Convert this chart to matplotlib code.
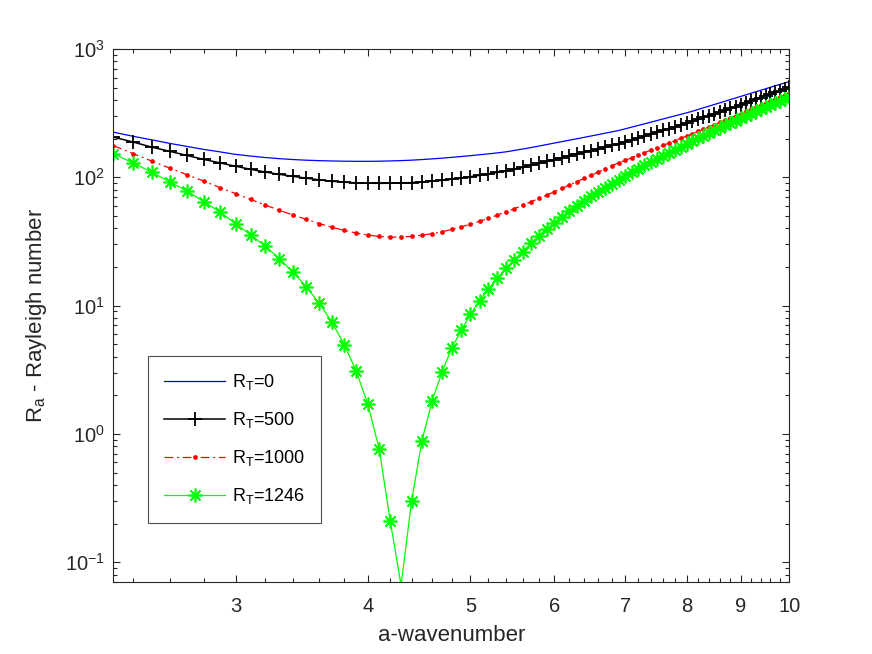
import matplotlib
matplotlib.use('Agg')
import matplotlib.pyplot as plt
from matplotlib.ticker import FixedLocator, NullFormatter

# wavenumber a (step 0.1)
wavenumber = [2.3, 2.4, 2.5, 2.6, 2.7, 2.8, 2.9, 3.0, 3.1, 3.2, 3.3, 3.4, 3.5, 3.6,
              3.7, 3.8, 3.9, 4.0, 4.1, 4.2, 4.3, 4.4, 4.5, 4.6, 4.7, 4.8, 4.9, 5.0,
              5.1, 5.2, 5.3, 5.4, 5.5, 5.6, 5.7, 5.8, 5.9, 6.0, 6.1, 6.2, 6.3, 6.4,
              6.5, 6.6, 6.7, 6.8, 6.9, 7.0, 7.1, 7.2, 7.3, 7.4, 7.5, 7.6, 7.7, 7.8,
              7.9, 8.0, 8.1, 8.2, 8.3, 8.4, 8.5, 8.6, 8.7, 8.8, 8.9, 9.0, 9.1, 9.2,
              9.3, 9.4, 9.5, 9.6, 9.7, 9.8, 9.9, 10.0]

ra_rt0 = [225, 209, 196, 184, 174, 165, 158, 151, 146.5, 142.7, 139.8, 137.6, 136, 134.9,
          134.1, 133.6, 133.3, 133.3, 133.6, 134.2, 135.0, 136.1, 137.6, 139.3, 141.1, 143.1, 145.3, 147.6,
          150.0, 152.4, 155.0, 158.0, 162.0, 166.1, 170.4, 175.2, 180.0, 184.9, 189.8, 194.8, 199.8, 204.9,
          210.0, 215.3, 220.8, 226.2, 231.7, 238.8, 246.3, 253.7, 261.3, 269.1, 277.0, 285.0, 293.1, 301.4,
          309.7, 318.2, 327.4, 337.7, 348.3, 359.0, 369.8, 380.9, 392.1, 403.7, 415.5, 427.2, 439.3, 451.9,
          464.4, 477.0, 489.9, 503.2, 516.6, 530.0, 543.8, 557.2]

ra_rt500 = [206, 188.6, 172, 159.5, 148, 138, 129.6, 122, 115.5, 110, 105.5, 101.8, 98.5, 95.5,
            93.2, 91.6, 90.6, 90.0, 89.8, 89.9, 90.3, 91.0, 92.0, 93.3, 94.9, 96.8, 98.9, 101.2,
            103.7, 106.4, 109.2, 112.3, 115.8, 119.6, 123.8, 128.2, 133.0, 137.7, 142.6, 147.5, 152.5, 156.8,
            161.5, 166.5, 172.0, 177.5, 183.0, 189.5, 196.1, 202.9, 209.8, 217.1, 224.6, 232.3, 240.2, 248.4,
            256.7, 265.5, 274.4, 283.6, 293.1, 302.9, 312.8, 323.3, 333.9, 345.0, 356.3, 367.9, 379.9, 392.5,
            405.3, 418.3, 431.8, 445.8, 459.8, 474.0, 488.7, 503.8]

ra_rt1000 = [176.8, 153.3, 134, 118, 104.8, 93.4, 83.2, 74.8, 67.2, 60.8, 55.4, 50.8, 47.0, 43.6,
             40.8, 38.6, 36.8, 35.5, 34.6, 34.2, 34.2, 34.7, 35.4, 36.4, 37.6, 39.3, 41.1, 43.1,
             45.4, 48.0, 50.7, 53.8, 57.0, 60.5, 64.3, 68.4, 72.7, 77.2, 82.0, 87.0, 92.3, 98.0,
             104.0, 109.9, 116.4, 123.2, 129.6, 135.8, 142.3, 148.8, 155.6, 162.7, 170.0, 177.4, 185.1, 193.1,
             201.2, 209.7, 218.3, 227.7, 237.5, 247.5, 257.7, 268.4, 279.3, 290.6, 302.1, 313.9, 326.1, 338.8,
             351.6, 364.7, 378.2, 392.3, 406.5, 421.0, 436.0, 452.3]

ra_rt1246 = [153, 129.6, 109.7, 92.3, 78.2, 64.6, 53.7, 43.6, 35.6, 29.1, 23.2, 18.2, 14.0, 10.4,
             7.43, 4.96, 3.10, 1.70, 0.765, 0.209, 0.066, 0.302, 0.887, 1.81, 3.04, 4.65, 6.41, 8.53,
             10.95, 13.5, 16.3, 19.5, 22.8, 26.4, 30.5, 35.0, 39.4, 43.9, 49.1, 54.7, 59.8, 65.4,
             71.5, 77.2, 82.9, 89.0, 96.0, 102.9, 109.8, 116.8, 124.1, 131.6, 139.4, 147.3, 155.5, 164.0,
             172.6, 181.6, 191.2, 201.0, 211.2, 221.6, 232.2, 243.1, 254.2, 265.6, 277.1, 288.9, 301.0, 313.4,
             326.2, 338.8, 352.0, 365.6, 379.4, 393.3, 407.5, 422.4]

labels = [r'R$_{\rm T}$=0', r'R$_{\rm T}$=500', r'R$_{\rm T}$=1000', r'R$_{\rm T}$=1246']

x_major = [3, 4, 5, 6, 7, 8, 9, 10]
x_minor = [2.4, 2.6, 2.8, 3.2, 3.4, 3.6, 3.8, 4.2, 4.4, 4.6, 4.8, 5.2, 5.4, 5.6, 5.8,
           6.2, 6.4, 6.6, 6.8, 7.2, 7.4, 7.6, 7.8, 8.2, 8.4, 8.6, 8.8, 9.2, 9.4, 9.6, 9.8]
y_lo, y_hi = 0.07, 1000

plt.rcParams['font.family'] = ['Liberation Sans', 'DejaVu Sans']
plt.rcParams['mathtext.fontset'] = 'custom'
plt.rcParams['mathtext.rm'] = 'Liberation Sans'
plt.rcParams['mathtext.it'] = 'Liberation Sans:italic'
plt.rcParams['mathtext.default'] = 'regular'

axcol = '#262626'

fig = plt.figure(figsize=(8.72, 6.54), dpi=100)
ax = fig.add_axes([0.13, 0.11, 0.775, 0.815])

ax.plot(wavenumber, ra_rt0, color=(0, 0, 1), lw=0.9, label=labels[0])
ax.plot(wavenumber, ra_rt500, color='k', lw=1.1, marker='+', ms=10, mew=1.3, label=labels[1])
ax.plot(wavenumber, ra_rt1000, color=(1, 0, 0), lw=0.9, ls=(0, (7, 3, 1.5, 3)),
        marker='o', ms=3.4, mew=0, label=labels[2])
# skip markers that fall under the bottom of the axes
show = [i for i, v in enumerate(ra_rt1246) if v >= y_lo]
ax.plot(wavenumber, ra_rt1246, color=(0, 1, 0), lw=0.9, marker=(8, 2, 0), ms=10, mew=1.2,
        markevery=show, label=labels[3])

ax.set_xscale('log')
ax.set_yscale('log')
ax.set_xlim(2.3, 10)
ax.set_ylim(y_lo, y_hi)

ax.xaxis.set_major_locator(FixedLocator(x_major))
ax.xaxis.set_minor_locator(FixedLocator(x_minor))
ax.set_xticklabels([str(v) for v in x_major])
ax.xaxis.set_minor_formatter(NullFormatter())

ax.tick_params(which='both', direction='in', top=True, right=True, colors=axcol,
               labelsize=14.5, width=0.8)
ax.tick_params(which='major', length=5)
ax.tick_params(which='minor', length=3)
ax.tick_params(axis='x', which='major', pad=11)
ax.tick_params(axis='y', which='major', pad=6)
for s in ax.spines.values():
    s.set_color(axcol)
    s.set_linewidth(0.8)

ax.set_xlabel('a-wavenumber', fontsize=16, color=axcol, va='center')
ax.xaxis.set_label_coords(0.5, -0.1)
ax.set_ylabel(r'R$_{\rm a}$ - Rayleigh number', fontsize=16, color=axcol, va='center', ha='center')
ax.yaxis.set_label_coords(-0.113, 0.5)

leg = ax.legend(loc='lower left', bbox_to_anchor=(0.0508, 0.1114), borderaxespad=0,
                fontsize=13, frameon=True, fancybox=False, edgecolor=axcol,
                handlelength=3.4, handletextpad=0.35, labelspacing=1.0, borderpad=0.9)
leg.get_frame().set_linewidth(0.8)

fig.savefig('out.png', dpi=100)
